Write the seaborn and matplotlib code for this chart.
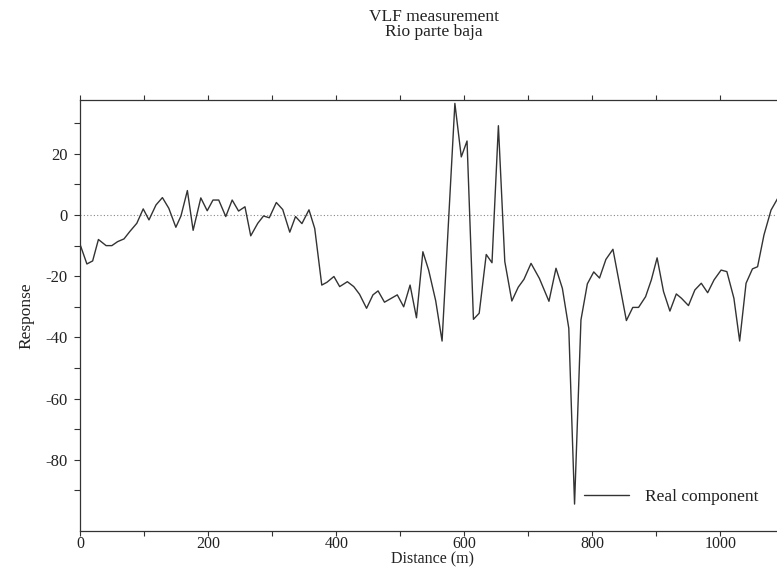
import matplotlib
matplotlib.use("Agg")
import matplotlib.pyplot as plt
import seaborn as sns
import pandas as pd
import numpy as np

distance = [0, 10, 19, 28, 40, 49, 58, 68, 77, 88, 98, 107, 118, 128, 138, 149, 157, 167, 176,
            188, 198, 207, 216, 227, 237, 247, 257, 266, 277, 286, 295, 306, 316, 327, 336, 346,
            357, 366, 377, 385, 396, 405, 417, 427, 436, 447, 457, 465, 475, 485, 495, 505, 515,
            525, 535, 544, 555, 565, 585, 595, 604, 614, 623, 634, 643, 653, 663, 674, 684, 693,
            704, 717, 732, 743, 753, 763, 772, 782, 792, 802, 811, 821, 832, 853, 863, 872, 883,
            892, 901, 911, 921, 931, 939, 950, 960, 970, 980, 990, 1001, 1010, 1021, 1030, 1040,
            1050, 1058, 1068, 1079, 1095]
response = [-10, -16, -15, -8, -10, -10, -8.7, -7.8, -5.4, -2.7, 2, -1.6, 3.3, 5.7, 2.2, -4, -0.3, 8, -5,
            5.6, 1.4, 4.9, 4.9, -0.5, 4.9, 1.3, 2.7, -6.8, -2.7, -0.3, -0.9, 4.1, 1.8, -5.6, -0.5, -2.8,
            1.7, -4.4, -22.9, -22, -20.1, -23.4, -21.8, -23.4, -25.9, -30.5, -26.1, -24.8, -28.5, -27.3, -26.1, -30, -22.9,
            -33.6, -12, -18, -28, -41.2, 36.5, 19, 24.2, -34.1, -32.1, -12.9, -15.6, 29.2, -15.2, -28.1, -23.6, -21,
            -15.8, -20.7, -28.2, -17.4, -24, -37, -94.5, -34.3, -22.5, -18.6, -20.6, -14.5, -11.2, -34.5, -30.2, -30.2, -26.7,
            -21.2, -14, -25, -31.4, -25.8, -27.2, -29.6, -24.5, -22.3, -25.4, -21.2, -18, -18.5, -27.2, -41.2, -22.3,
            -17.6, -16.9, -6.5, 1.6, 7.5]
series_name = "Real component"
title_text = "VLF measurement\nRio parte baja"
x_label = "Distance (m)"
y_label = "Response"
x_tick_labels = ["0", "", "200", "", "400", "", "600", "", "800", "", "1000", ""]
y_tick_labels = ["", "20", "", "0", "", "-20", "", "-40", "", "-60", "", "-80", ""]

df = pd.DataFrame({"Distance": distance, "Response": response, "series": series_name})

sns.set_style("ticks")
plt.rcParams["font.family"] = ["Liberation Serif", "DejaVu Serif"]

fig = plt.figure(figsize=(7.77, 5.67), dpi=100)
ax = fig.add_axes([0.1036, 0.0635, 0.906, 0.7601])

ax.axhline(0, color="#888888", lw=0.8, ls=(0, (1, 2)), zorder=1)
sns.lineplot(data=df, x="Distance", y="Response", hue="series", palette=["#333333"],
             lw=1.0, ax=ax, sort=False, estimator=None)

ax.set_xlim(0, 1100)
ax.set_ylim(-103.3, 37.6)
ax.set_xticks(np.arange(0, 1101, 100))
ax.set_xticklabels(x_tick_labels)
ax.set_yticks(np.arange(30, -91, -10))
ax.set_yticklabels(y_tick_labels)
ax.tick_params(axis="both", direction="out", length=4, width=0.8, color="#333333",
               labelsize=12, labelcolor="#222222")
ax.tick_params(axis="x", top=True, pad=0, length=3.5, labelsize=11.5)
ax.tick_params(axis="y", pad=5)
for s in ["left", "bottom", "top"]:
    ax.spines[s].set_visible(True)
    ax.spines[s].set_color("#333333")
    ax.spines[s].set_linewidth(0.9)
ax.spines["right"].set_visible(False)

ax.set_xlabel(x_label, fontsize=11.5, color="#222222")
ax.xaxis.label.set_va("bottom")
ax.xaxis.set_label_coords(0.556, 0.0, transform=fig.transFigure)
ax.set_ylabel(y_label, fontsize=12.5, color="#222222", labelpad=8)

fig.text(0.558, 0.985, title_text, ha="center", va="top", fontsize=12.5, color="#222222",
         linespacing=0.95)

leg = ax.legend(loc="center left", bbox_to_anchor=(0.752, 0.1235),
                bbox_transform=fig.transFigure, frameon=False, fontsize=12.5,
                handlelength=2.6, handletextpad=0.9, borderpad=0, borderaxespad=0)
for t in leg.get_texts():
    t.set_color("#222222")

fig.savefig("out.png", dpi=100)
